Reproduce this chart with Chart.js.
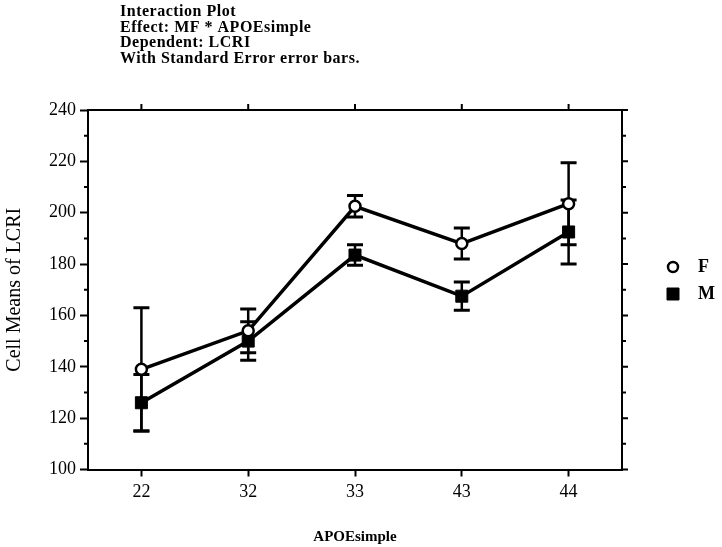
<html>
<head>
  <script src="https://cdn.jsdelivr.net/npm/chart.js@4.4.1/dist/chart.umd.min.js"></script>
  <style>
    body { margin: 0; background: #fff; }
    #wrap { width: 722px; height: 547px; }
  </style>
</head>
<body>
<div id="wrap"><canvas id="plot"></canvas></div>
<script>
  // Data
  const categories = ['22', '32', '33', '43', '44'];
  const fMeans = [139, 154, 202.5, 188, 203.5];
  const fErr = [24, 8.5, 4.2, 6, 16];
  const mMeans = [126, 150, 183.5, 167.5, 192.5];
  const mErr = [11, 7.5, 4, 5.5, 12.5];
  const titleLines = ['Interaction Plot', 'Effect: MF * APOEsimple', 'Dependent: LCRI', 'With Standard Error error bars.'];
  const yMin = 100, yMax = 240, yStep = 20, yMinorStep = 10;

  const serif = '"Liberation Serif", "Times New Roman", serif';

  // error bars, drawn under the lines/markers
  const errorBars = {
    id: 'errorBars',
    beforeDatasetsDraw(chart) {
      const ctx = chart.ctx;
      const x = chart.scales.x, y = chart.scales.y;
      chart.data.datasets.forEach((ds) => {
        ds.errors.forEach((e, i) => {
          const px = x.getPixelForValue(i);
          const top = y.getPixelForValue(ds.data[i] + e);
          const bot = y.getPixelForValue(ds.data[i] - e);
          ctx.save();
          ctx.strokeStyle = '#000';
          ctx.lineWidth = 2.5;
          ctx.beginPath();
          ctx.moveTo(px, top); ctx.lineTo(px, bot);
          ctx.stroke();
          ctx.lineWidth = 3;
          ctx.beginPath();
          ctx.moveTo(px - 8, top); ctx.lineTo(px + 8, top);
          ctx.moveTo(px - 8, bot); ctx.lineTo(px + 8, bot);
          ctx.stroke();
          ctx.restore();
        });
      });
    }
  };

  // frame: minor ticks, right and top axes, title block, legend
  const frame = {
    id: 'frame',
    afterDraw(chart) {
      const ctx = chart.ctx;
      const a = chart.chartArea;
      const x = chart.scales.x, y = chart.scales.y;
      ctx.save();
      ctx.strokeStyle = '#000';
      ctx.lineWidth = 2;
      ctx.beginPath();
      // top and right border
      ctx.moveTo(a.left, a.top); ctx.lineTo(a.right + 1, a.top);
      ctx.moveTo(a.right, a.top); ctx.lineTo(a.right, a.bottom + 1);
      for (let v = yMin; v <= yMax; v += yMinorStep) {
        const py = y.getPixelForValue(v);
        const major = (v - yMin) % yStep === 0;
        if (!major) { ctx.moveTo(a.left, py); ctx.lineTo(a.left - 4, py); }
        ctx.moveTo(a.right, py); ctx.lineTo(a.right + (major ? 6 : 4), py);
      }
      categories.forEach((c, i) => {
        const px = x.getPixelForValue(i);
        ctx.moveTo(px, a.top); ctx.lineTo(px, a.top - 6);
      });
      ctx.stroke();

      // title block
      ctx.fillStyle = '#000';
      ctx.font = 'bold 16px ' + serif;
      ctx.letterSpacing = '0.5px';
      ctx.textBaseline = 'middle';
      ctx.textAlign = 'left';
      titleLines.forEach((t, i) => ctx.fillText(t, 120, 12 + i * 15.5));
      ctx.letterSpacing = '0px';

      // legend
      const items = chart.data.datasets;
      items.forEach((ds, i) => {
        const cy = 267 + i * 27;
        ctx.lineWidth = ds.pointBorderWidth;
        ctx.fillStyle = ds.pointBackgroundColor;
        ctx.strokeStyle = '#000';
        ctx.beginPath();
        if (ds.pointStyle === 'circle') {
          ctx.arc(673, cy, 5, 0, Math.PI * 2);
        } else {
          ctx.rect(667, cy - 6, 12, 12);
        }
        ctx.fill();
        ctx.stroke();
        ctx.fillStyle = '#000';
        ctx.font = 'bold 18px ' + serif;
        ctx.fillText(ds.label, 698, cy);
      });
      ctx.restore();
    }
  };

  new Chart(document.getElementById('plot'), {
    type: 'line',
    data: {
      labels: categories,
      datasets: [
        {
          label: 'F',
          data: fMeans,
          errors: fErr,
          borderColor: '#000',
          borderWidth: 3.5,
          pointStyle: 'circle',
          pointRadius: 5.5,
          pointBackgroundColor: '#fff',
          pointBorderColor: '#000',
          pointBorderWidth: 2.5,
          tension: 0
        },
        {
          label: 'M',
          data: mMeans,
          errors: mErr,
          borderColor: '#000',
          borderWidth: 3.5,
          pointStyle: 'rect',
          pointRadius: 8.5,
          pointBackgroundColor: '#000',
          pointBorderColor: '#000',
          pointBorderWidth: 1,
          tension: 0
        }
      ]
    },
    options: {
      responsive: true,
      maintainAspectRatio: false,
      animation: false,
      layout: { padding: { top: 110, right: 100, left: 0, bottom: 0 } },
      plugins: {
        legend: { display: false },
        title: { display: false },
        tooltip: { enabled: false }
      },
      scales: {
        x: {
          offset: true,
          afterFit(s) { s.height = 77.5; },
          grid: { drawOnChartArea: false, tickLength: 7, tickWidth: 2, tickColor: '#000' },
          border: { color: '#000', width: 2 },
          ticks: { color: '#000', padding: 5, font: { family: serif, size: 18 } },
          title: {
            display: true, text: 'APOEsimple', color: '#000',
            font: { family: serif, size: 15, weight: 'bold' },
            padding: { top: 0, bottom: 1 }
          }
        },
        y: {
          min: yMin, max: yMax,
          afterFit(s) { s.width = 88; },
          grid: { drawOnChartArea: false, tickLength: 8, tickWidth: 2, tickColor: '#000' },
          border: { color: '#000', width: 2 },
          ticks: { stepSize: yStep, color: '#000', padding: 4, font: { family: serif, size: 18 } },
          title: {
            display: true, text: 'Cell Means of LCRI', color: '#000',
            font: { family: serif, size: 20 },
            padding: { top: 3, bottom: 0 }
          }
        }
      }
    },
    plugins: [errorBars, frame]
  });
</script>
</body>
</html>
